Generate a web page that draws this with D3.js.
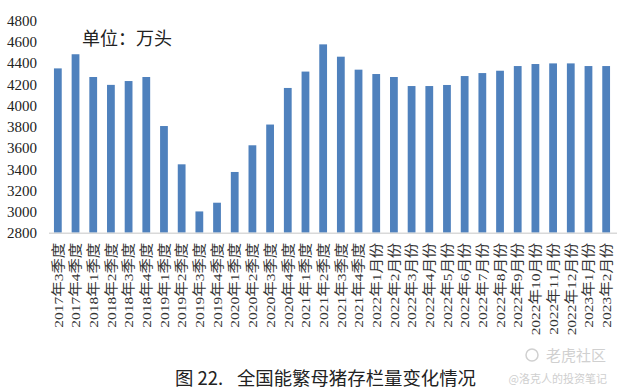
<!DOCTYPE html>
<html>
<head>
<meta charset="utf-8">
<script src="https://cdn.jsdelivr.net/npm/d3@7"></script>
<style>
  body { margin: 0; background: #fff; }
  svg { display: block; }
</style>
</head>
<body>
<svg id="chart" width="617" height="391"></svg>
<script>
const width = 617, height = 391;

// categories (x axis)
const periods = [
  '2017年3季度','2017年4季度',
  '2018年1季度','2018年2季度','2018年3季度','2018年4季度',
  '2019年1季度','2019年2季度','2019年3季度','2019年4季度',
  '2020年1季度','2020年2季度','2020年3季度','2020年4季度',
  '2021年1季度','2021年2季度','2021年3季度','2021年4季度',
  '2022年1月份','2022年2月份','2022年3月份','2022年4月份','2022年5月份','2022年6月份',
  '2022年7月份','2022年8月份','2022年9月份','2022年10月份','2022年11月份','2022年12月份',
  '2023年1月份','2023年2月份'
];
// 能繁母猪存栏 (万头)
const sows = [
  4345, 4478,
  4264, 4190, 4226, 4264,
  3803, 3443, 3000, 3082,
  3371, 3622, 3817, 4161,
  4315, 4571, 4455, 4333,
  4292, 4264, 4179, 4179, 4189, 4273,
  4301, 4323, 4367, 4386, 4392, 4392,
  4367, 4367
];
const yTicks = [2800, 3000, 3200, 3400, 3600, 3800, 4000, 4200, 4400, 4600, 4800];

const fig = {margin: {top: 20, right: 2, left: 49}};
fig.bottom = 232.7;

const svg = d3.select('#chart');

const x = d3.scaleBand()
  .domain(periods)
  .range([fig.margin.left, width - fig.margin.right])
  .paddingInner(0.56)
  .paddingOuter(0.28);

const y = d3.scaleLinear()
  .domain([2800, 4800])
  .range([fig.bottom, fig.margin.top]);

const serif = '"Liberation Serif", "Noto Sans CJK SC", serif';
const cjk = '"Noto Sans CJK SC", sans-serif';

// bars
svg.append('g')
  .selectAll('rect')
  .data(sows)
  .join('rect')
    .attr('x', (d, i) => x(periods[i]))
    .attr('y', d => y(d))
    .attr('width', x.bandwidth())
    .attr('height', d => y(2800) - y(d))
    .style('fill', '#4f81bd');

// y axis: labels only
const yAxis = d3.axisLeft(y)
  .tickValues(yTicks)
  .tickSize(0)
  .tickPadding(0)
  .tickFormat(d3.format('d'));

svg.append('g')
  .attr('transform', 'translate(37,0)')
  .call(yAxis)
  .call(g => g.select('.domain').remove())
  .selectAll('text')
  .attr('dy', '0.35em')
  .style('font-family', serif)
  .style('font-size', '15px')
  .style('fill', '#222');

// x axis
const xAxis = d3.axisBottom(x).tickSize(0).tickPadding(0);

const xLabels = svg.append('g')
  .attr('transform', 'translate(0,' + fig.bottom + ')')
  .call(xAxis)
  .call(g => g.select('.domain')
    .attr('d', 'M' + fig.margin.left + ',0.5H' + width)
    .style('stroke', '#d9d9d9')
    .style('stroke-width', 1.5))
  .selectAll('text')
  .attr('text-anchor', 'end')
  .attr('y', 0)
  .attr('dy', '0.35em')
  .style('font-family', serif)
  .style('font-size', '13.5px')
  .style('fill', '#333');

// stretch labels along their length so the first one spans ~85px like the original
const firstLen = xLabels.node().getComputedTextLength() || 85;
const k = 85 / firstLen;
xLabels
  .attr('x', -10 / k)
  .attr('transform', 'rotate(-90) scale(' + k + ',1)');

// unit note
svg.append('text')
  .attr('x', 82)
  .attr('y', 45)
  .text('单位：万头')
  .style('font-family', cjk)
  .style('font-size', '18px')
  .style('fill', '#222');

// caption
svg.append('text')
  .attr('x', 175)
  .attr('y', 385)
  .text('图 22.')
  .style('font-family', cjk)
  .style('font-size', '18.4px')
  .style('fill', '#222');
svg.append('text')
  .attr('x', 476)
  .attr('y', 385)
  .attr('text-anchor', 'end')
  .text('全国能繁母猪存栏量变化情况')
  .style('font-family', cjk)
  .style('font-size', '18.4px')
  .style('fill', '#222');

// watermark
svg.append('text')
  .attr('x', 606)
  .attr('y', 361)
  .attr('text-anchor', 'end')
  .text('老虎社区')
  .style('font-family', cjk)
  .style('font-size', '15px')
  .style('fill', '#d0d0d0');
svg.append('circle')
  .attr('cx', 532)
  .attr('cy', 355)
  .attr('r', 6)
  .style('fill', 'none')
  .style('stroke', '#d0d0d0')
  .style('stroke-width', 1.5);
svg.append('text')
  .attr('x', 607)
  .attr('y', 383)
  .attr('text-anchor', 'end')
  .text('@洛克人的投资笔记')
  .style('font-family', cjk)
  .style('font-size', '11px')
  .style('fill', '#cfcfcf');
</script>
</body>
</html>
